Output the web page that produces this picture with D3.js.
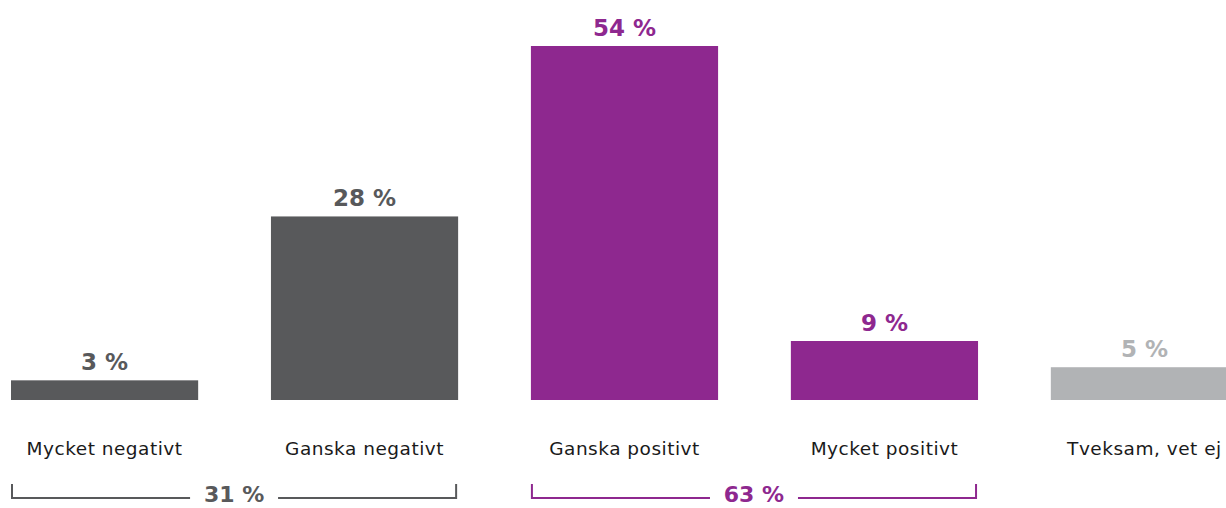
<!DOCTYPE html>
<html><head><meta charset="utf-8">
<script src="https://cdn.jsdelivr.net/npm/d3@7"></script>
<style>body{margin:0;background:#fff}svg{display:block}</style>
</head><body><svg id="c" width="1226" height="508"></svg>
<script>
const categories = ["Mycket negativt","Ganska negativt","Ganska positivt","Mycket positivt","Tveksam, vet ej"];
const values = [3, 28, 54, 9, 5];
const valueLabels = ["3 %","28 %","54 %","9 %","5 %"];
const groups = [
  {label:"31 %", from:0, to:1, color:"#58595b"},
  {label:"63 %", from:2, to:3, color:"#8e288f"}
];
const colors = ["#58595b","#58595b","#8e288f","#8e288f","#b1b3b5"];
const labelColors = ["#58595b","#58595b","#8e288f","#8e288f","#b1b3b5"];

const svg = d3.select("#c");
const font = "'DejaVu Sans', sans-serif";
const x = d3.scaleBand().domain(categories).range([11, 1238]).paddingInner(0.28).paddingOuter(0);
const baseY = 400;
const y = d3.scaleLinear().domain([0, 54]).range([baseY, 46]);

svg.selectAll("rect.bar").data(categories).join("rect")
  .attr("x", d => x(d)).attr("width", x.bandwidth())
  .attr("y", (d,i) => y(values[i])).attr("height", (d,i) => baseY - y(values[i]))
  .attr("fill", (d,i) => colors[i]);

svg.selectAll("text.val").data(categories).join("text")
  .attr("x", d => x(d) + x.bandwidth()/2).attr("y", (d,i) => y(values[i]) - 10)
  .attr("text-anchor","middle").attr("font-family", font).attr("font-weight","bold")
  .attr("font-size", 23).attr("fill", (d,i) => labelColors[i]).text((d,i) => valueLabels[i]);

svg.selectAll("text.cat").data(categories).join("text")
  .attr("x", d => x(d) + x.bandwidth()/2).attr("y", 455)
  .attr("text-anchor","middle").attr("font-family", font)
  .attr("font-size", 18.5).attr("letter-spacing", 0.5).attr("fill", "#1a1a1a").text(d => d);

groups.forEach(g => {
  const x0 = x(categories[g.from]) + 1;
  const x1 = x(categories[g.to]) + x.bandwidth() - 2;
  const cx = (x0 + x1) / 2;
  const gy = 498, gap = 44;
  const gg = svg.append("g").attr("stroke", g.color).attr("stroke-width", 2).attr("fill","none");
  gg.append("path").attr("d", `M${x0},${gy-14}V${gy}H${cx-gap}`);
  gg.append("path").attr("d", `M${cx+gap},${gy}H${x1}V${gy-14}`);
  svg.append("text").attr("x", cx).attr("y", 502).attr("text-anchor","middle")
    .attr("font-family", font).attr("font-weight","bold").attr("font-size", 22)
    .attr("fill", g.color).text(g.label);
});
</script></body></html>
